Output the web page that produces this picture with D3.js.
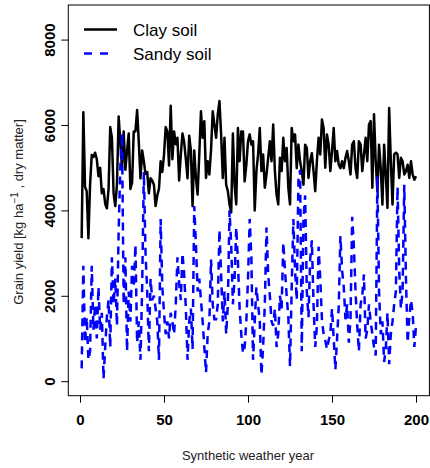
<!DOCTYPE html>
<html>
<head>
<meta charset="utf-8">
<script src="https://cdn.jsdelivr.net/npm/d3@7"></script>
<style>
  body { margin: 0; background: #fff; }
  svg { display: block; font-family: "Liberation Sans", Arial, sans-serif; }
</style>
</head>
<body>
<main></main>
<script>
// grain yield per synthetic weather year, kg/ha
const clayYield = [
  3350, 6300, 4550, 4450, 3350, 4600, 5300, 5250, 5350, 5200,
  4800, 5000, 4400, 4500, 4150, 4050, 4500, 5950, 5700, 4400,
  4100, 4600, 6200, 5600, 5000, 5850, 4950, 5400, 5800, 4500,
  4650, 5850, 5850, 6350, 5600, 4750, 5400, 5150, 4850, 4900,
  4400, 4750, 4700, 4600, 4100, 4350, 4500, 5150, 4900, 5300,
  5950, 5850, 5050, 6450, 5200, 5850, 5550, 5700, 4700, 5300,
  5800, 5600, 5200, 4750, 5750, 5400, 4100, 5400, 4760, 4370,
  5310, 6320, 5700, 6090, 4760, 5150, 4840, 5420, 6320, 6010,
  5700, 6250, 6560, 5780, 4760, 5700, 4600, 4450, 4140, 3950,
  5800, 4600, 4140, 5930, 5150, 5850, 5850, 4680, 5070, 5620,
  5780, 5540, 5620, 4000, 4920, 5310, 5930, 4920, 5310, 4530,
  4840, 5230, 5620, 5150, 6010, 4920, 4370, 4140, 5230, 4920,
  5700, 5150, 5460, 4530, 4140, 5930, 5620, 5780, 4990, 5540,
  5150, 4920, 4600, 5540, 5460, 4760, 5150, 5340, 4920, 4450,
  5150, 5700, 5310, 6130, 5930, 5000, 5780, 5540, 4920, 5390,
  5930, 5150, 5390, 5070, 4990, 5150, 4990, 5230, 5390, 5150,
  4840, 5540, 5620, 4990, 4760, 5620, 5540, 4920, 5310, 5700,
  5150, 6010, 6090, 4530, 6250, 5150, 4450, 5540, 4990, 4140,
  5540, 4840, 4060, 6400, 5150, 4140, 5310, 5350, 5310, 4760,
  5230, 5150, 4840, 4920, 5070, 4760, 5150, 4840, 4720, 4800
];

const sandyYield = [
  300, 2700, 900, 1500, 500, 700, 2700, 1200, 1800, 1000,
  2200, 1200, 1600, 50, 800, 1500, 1900, 800, 2900, 1800,
  2400, 1300, 3500, 5000, 5800, 1800, 2900, 700, 2100, 1400,
  2700, 2200, 3200, 900, 1400, 500, 2200, 4900, 3000, 2100,
  700, 2400, 1900, 2000, 1700, 1400, 500, 3800, 2200, 1600,
  1100, 1400, 1000, 1600, 1400, 1100, 1800, 2900, 2300, 1900,
  3000, 2500, 1700, 500, 1400, 1700, 750, 4100, 3200, 2100,
  2400, 1900, 1400, 800, 200, 1100, 1400, 2850, 1800, 1450,
  1450, 1800, 3550, 2500, 1400, 2100, 1100, 1800, 4000, 3200,
  1800, 2400, 3600, 2800, 1700, 1100, 650, 800, 1400, 2400,
  3800, 2900, 500, 1400, 2200, 1800, 1400, 150, 800, 1800,
  3600, 2500, 2000, 1400, 1300, 1700, 800, 1100, 2000, 1700,
  3250, 2600, 2000, 1500, 350, 2200, 3800, 2600, 1900, 4700,
  4950, 700, 3800, 4350, 2100, 1500, 2850, 3300, 1800, 800,
  1300, 3150, 2400, 1450, 1100, 950, 750, 950, 1100, 1700,
  1000, 270, 1000, 1750, 3400, 2600, 2200, 1450, 1800, 900,
  1450, 3850, 3150, 2100, 1300, 700, 1800, 2000, 2500, 1000,
  1200, 1800, 1400, 1100, 800, 600, 4800, 2100, 1100, 1400,
  450, 750, 1600, 400, 1100, 1400, 1800, 2100, 4550, 2600,
  1700, 2100, 4600, 2400, 900, 1500, 1900, 1600, 800, 1300
];

const years = d3.range(1, clayYield.length + 1);
const xTicks = [0, 50, 100, 150, 200];
const yTicks = [0, 2000, 4000, 6000, 8000];
const seriesNames = ["Clay soil", "Sandy soil"];

const width = 430, height = 468;
const plotLeft = 68.3, plotRight = 429.4, plotTop = 5, plotBottom = 395.7;

let svg = d3.select("main").append("svg").attr("width", width).attr("height", height);

// R style 4% padding around the data range
let x = d3.scaleLinear().domain([1 - 7.96, 200 + 7.96]).range([plotLeft, plotRight]);
let y = d3.scaleLinear().domain([-340, 8810]).range([plotBottom, plotTop]);

let line = d3.line().x((d, i) => x(years[i])).y(d => y(d));

svg.append("path")
   .datum(clayYield)
   .attr("d", line)
   .attr("fill", "none")
   .attr("stroke", "#000")
   .attr("stroke-width", 2.5)
   .attr("stroke-linejoin", "round");

svg.append("path")
   .datum(sandyYield)
   .attr("d", line)
   .attr("fill", "none")
   .attr("stroke", "#0000ff")
   .attr("stroke-width", 2.5)
   .attr("stroke-dasharray", "8,6");

// box
svg.append("rect")
   .attr("x", plotLeft).attr("y", plotTop)
   .attr("width", plotRight - plotLeft).attr("height", plotBottom - plotTop)
   .attr("fill", "none").attr("stroke", "#000").attr("stroke-width", 1);

// y axis
let yAxis = svg.append("g")
   .attr("transform", `translate(${plotLeft},0)`)
   .call(d3.axisLeft(y).tickValues(yTicks).tickFormat(d3.format("d")).tickSize(7).tickSizeOuter(0));
yAxis.select(".domain").remove();
yAxis.selectAll("text")
   .attr("x", 0).attr("y", -13).attr("dy", 0)
   .attr("transform", "rotate(-90)")
   .attr("text-anchor", "middle")
   .attr("font-size", 15).attr("font-weight", "bold")
   .attr("font-family", "Liberation Sans, Arial, sans-serif")
   .attr("fill", "#000");

// x axis
let xAxis = svg.append("g")
   .attr("transform", `translate(0,${plotBottom})`)
   .call(d3.axisBottom(x).tickValues(xTicks).tickSize(7).tickSizeOuter(0));
xAxis.select(".domain").remove();
xAxis.selectAll("text")
   .attr("y", 19)
   .attr("font-size", 15).attr("font-weight", "bold")
   .attr("font-family", "Liberation Sans, Arial, sans-serif")
   .attr("fill", "#000");

// axis titles
svg.append("text")
   .attr("x", x(100)).attr("y", 460)
   .attr("text-anchor", "middle")
   .attr("font-size", 13).attr("fill", "#222")
   .text("Synthetic weather year");

let yTitle = svg.append("text")
   .attr("transform", "translate(23,212) rotate(-90)")
   .attr("text-anchor", "middle")
   .attr("font-size", 13).attr("fill", "#222");
yTitle.append("tspan").text("Grain yield [kg  ha");
yTitle.append("tspan").attr("dy", -5).attr("font-size", 10).text("\u22121");
yTitle.append("tspan").attr("dy", 5).text(" , dry matter]");

// legend
let legend = svg.append("g").attr("id", "legend");
legend.append("line")
   .attr("x1", 84).attr("x2", 117).attr("y1", 29.5).attr("y2", 29.5)
   .attr("stroke", "#000").attr("stroke-width", 2.5);
legend.append("line")
   .attr("x1", 84).attr("x2", 110).attr("y1", 53.5).attr("y2", 53.5)
   .attr("stroke", "#0000ff").attr("stroke-width", 2.5).attr("stroke-dasharray", "8,8");
legend.selectAll("text.lab")
   .data(seriesNames)
   .enter()
   .append("text")
   .attr("class", "lab")
   .attr("x", 133)
   .attr("y", (d, i) => 36 + i * 24)
   .attr("font-size", 17)
   .attr("fill", "#000")
   .text(d => d);
</script>
</body>
</html>
